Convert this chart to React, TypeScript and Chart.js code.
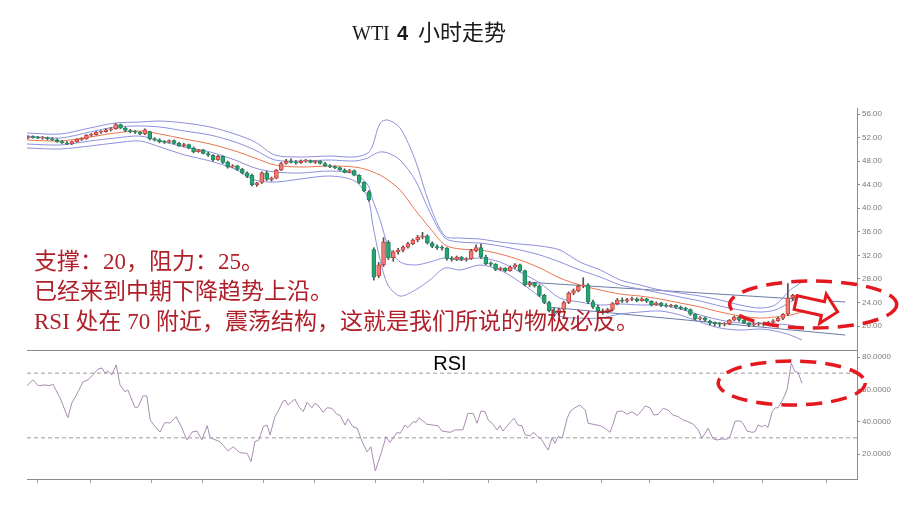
import React, { useEffect, useRef } from "react";
import { Chart, registerables } from "chart.js";

Chart.register(...registerables);

// ---- candle data (4h bars, index 0..159) ----
const openP = [
  52.0, 52.1, 52.0, 51.9, 52.0, 51.8, 51.6, 51.3, 51.1, 50.9,
  51.3, 51.7, 51.8, 52.4, 52.5, 52.9, 53.0, 53.3, 53.5, 54.2,
  53.6, 53.2, 53.0, 52.9, 52.6, 53.0, 51.8, 51.6, 51.3, 51.2,
  51.5, 51.0, 50.6, 50.8, 50.2, 49.6, 49.9, 49.3, 49.0, 48.2,
  48.8, 47.8, 47.0, 47.2, 46.6, 46.0, 45.6, 44.0, 44.4, 46.0,
  44.9, 45.1, 46.5, 47.6, 48.0, 47.8, 47.7, 48.0, 48.1, 47.8,
  48.0, 47.6, 47.2, 47.0, 46.9, 46.5, 46.1, 46.4, 45.6, 44.4,
  42.8, 33.0, 28.5, 30.4, 34.2, 31.6, 32.6, 32.9, 33.4, 34.0,
  34.6, 35.1, 35.3, 34.1, 33.5, 33.3, 33.2, 31.5, 31.3, 31.7,
  31.3, 31.4, 32.8, 33.3, 31.7, 30.6, 30.5, 29.6, 29.8, 29.4,
  30.0, 30.4, 29.4, 27.0, 27.3, 26.8, 25.2, 24.0, 22.6, 22.2,
  22.8, 24.0, 25.6, 26.0, 26.8, 27.0, 24.1, 23.2, 22.6, 22.4,
  22.8, 23.8, 24.4, 24.2, 24.5, 24.6, 24.3, 24.6, 24.2, 23.6,
  23.9, 23.5, 23.4, 23.5, 23.2, 23.0, 22.8, 22.0, 21.2, 21.4,
  20.8, 20.5, 20.4, 20.3, 20.4, 21.0, 21.5, 21.0, 20.5, 20.2,
  20.3, 20.4, 20.3, 20.6, 20.9, 21.3, 22.0, 24.8, 25.2, 24.5
];
const highP = [
  52.3, 52.3, 52.2, 52.2, 52.1, 52.0, 51.8, 51.5, 51.3, 51.4,
  51.8, 52.0, 52.5, 52.7, 53.0, 53.2, 53.5, 53.7, 54.4, 54.3,
  53.8, 53.4, 53.2, 53.0, 53.5, 53.1, 52.0, 51.8, 51.5, 51.6,
  51.6, 51.2, 51.0, 50.9, 50.4, 50.0, 50.0, 49.5, 49.1, 49.0,
  48.9, 48.0, 47.4, 47.3, 46.8, 46.2, 45.8, 44.4, 46.2, 46.3,
  45.3, 46.6, 47.8, 48.3, 48.4, 48.1, 48.2, 48.3, 48.2, 48.1,
  48.1, 47.8, 47.4, 47.2, 47.0, 46.7, 46.6, 46.5, 45.7, 44.5,
  43.0, 33.3, 30.8, 35.0, 34.5, 32.8, 33.2, 33.6, 34.2, 34.8,
  35.4, 35.9, 35.5, 34.3, 33.8, 33.6, 33.3, 31.8, 31.9, 31.8,
  31.6, 33.0, 33.8, 33.9, 32.0, 30.9, 30.6, 30.0, 29.9, 30.2,
  30.6, 30.5, 29.5, 27.6, 27.4, 27.0, 25.4, 24.2, 23.0, 23.0,
  24.2, 25.8, 26.3, 27.0, 28.2, 27.2, 24.4, 23.5, 22.9, 23.0,
  24.0, 24.7, 24.8, 24.7, 24.9, 24.8, 24.8, 24.7, 24.3, 24.1,
  24.0, 23.8, 23.7, 23.6, 23.4, 23.2, 22.9, 22.1, 21.6, 21.5,
  21.0, 20.7, 20.6, 20.6, 21.1, 21.7, 21.6, 21.1, 20.6, 20.5,
  20.6, 20.5, 20.8, 21.1, 21.5, 22.1, 27.2, 25.4, 25.3, 25.0
];
const lowP = [
  51.8, 51.9, 51.8, 51.7, 51.6, 51.5, 51.2, 51.0, 50.8, 50.8,
  51.2, 51.5, 51.7, 52.2, 52.4, 52.7, 52.9, 53.1, 53.4, 53.5,
  53.0, 52.8, 52.7, 52.5, 52.5, 51.6, 51.4, 51.1, 51.0, 51.1,
  50.9, 50.5, 50.4, 50.1, 49.4, 49.5, 49.2, 48.8, 48.0, 48.1,
  47.6, 46.8, 46.9, 46.4, 45.8, 45.2, 43.8, 43.7, 44.2, 44.7,
  44.6, 45.0, 46.4, 47.5, 47.7, 47.5, 47.6, 47.8, 47.7, 47.6,
  47.5, 47.1, 46.9, 46.7, 46.4, 46.0, 46.0, 45.5, 44.2, 42.8,
  41.2, 27.8, 28.2, 30.1, 31.3, 31.0, 32.2, 32.6, 33.2, 33.8,
  34.3, 34.8, 33.9, 33.3, 33.0, 32.9, 31.2, 31.0, 31.1, 31.1,
  31.0, 31.3, 32.6, 31.5, 30.4, 30.2, 29.4, 29.4, 29.2, 29.3,
  29.8, 29.2, 26.8, 26.7, 26.6, 25.0, 23.8, 22.4, 21.6, 21.8,
  22.6, 23.8, 25.3, 25.8, 26.5, 23.8, 23.0, 22.3, 22.0, 22.2,
  22.6, 23.6, 24.0, 24.0, 24.3, 24.1, 24.2, 24.0, 23.4, 23.5,
  23.3, 23.2, 23.2, 23.0, 22.8, 22.6, 21.8, 21.0, 21.0, 20.8,
  20.2, 20.0, 19.9, 20.0, 20.2, 20.9, 20.8, 20.4, 19.9, 20.0,
  20.1, 20.0, 20.2, 20.5, 20.8, 21.1, 21.8, 24.3, 24.2, 23.7
];
const closeP = [
  52.1, 52.0, 51.9, 52.0, 51.8, 51.6, 51.3, 51.1, 50.9, 51.3,
  51.7, 51.8, 52.4, 52.5, 52.9, 53.0, 53.3, 53.5, 54.2, 53.6,
  53.2, 53.0, 52.9, 52.6, 53.3, 51.8, 51.6, 51.3, 51.2, 51.5,
  51.0, 50.6, 50.8, 50.2, 49.6, 49.9, 49.3, 49.0, 48.2, 48.8,
  47.8, 47.0, 47.2, 46.6, 46.0, 45.4, 44.0, 44.3, 46.0, 44.9,
  45.1, 46.5, 47.6, 48.0, 47.8, 47.7, 48.0, 48.1, 47.8, 48.0,
  47.6, 47.2, 47.0, 46.9, 46.5, 46.1, 46.4, 45.6, 44.4, 43.0,
  41.4, 28.3, 30.4, 34.3, 31.6, 32.6, 32.9, 33.4, 34.0, 34.6,
  35.1, 35.3, 34.1, 33.5, 33.3, 33.2, 31.5, 31.3, 31.7, 31.3,
  31.4, 32.8, 33.3, 31.7, 30.6, 30.5, 29.6, 29.8, 29.4, 30.0,
  30.4, 29.4, 27.0, 27.3, 26.8, 25.2, 24.0, 22.6, 22.2, 22.8,
  24.0, 25.6, 26.0, 26.8, 27.0, 24.1, 23.2, 22.6, 22.4, 22.8,
  23.8, 24.4, 24.2, 24.5, 24.6, 24.3, 24.6, 24.2, 23.6, 23.9,
  23.5, 23.4, 23.5, 23.2, 23.0, 22.8, 22.0, 21.2, 21.4, 21.0,
  20.5, 20.4, 20.3, 20.4, 21.0, 21.5, 21.0, 20.5, 20.2, 20.3,
  20.4, 20.3, 20.6, 20.9, 21.3, 22.0, 24.8, 25.2, 24.5, 23.9
];

// ---- Bollinger-type bands (position in bar index) ----
const bandT = [-0.2, 6.6, 12.7, 17.9, 23.0, 27.1, 32.2, 37.4, 42.5, 46.6, 50.7, 55.9, 62.0, 67.1, 69.8, 70.8, 72.3, 73.9, 76.4, 79.5, 82.5, 85.6, 88.7, 92.8, 96.9, 101.0, 105.1, 109.2, 113.3, 117.5, 121.6, 125.7, 129.8, 133.9, 138.0, 142.1, 146.2, 150.3, 153.4, 156.5, 158.9];
const bandOuterUp = [52.77, 52.60, 53.62, 54.47, 54.64, 54.81, 54.47, 53.79, 52.60, 51.25, 49.04, 48.70, 48.87, 48.70, 49.38, 50.74, 54.47, 54.98, 53.62, 48.19, 40.55, 35.28, 34.94, 34.77, 34.26, 33.92, 33.59, 32.91, 30.87, 29.51, 27.81, 26.96, 26.11, 25.60, 25.09, 24.42, 23.57, 23.06, 23.57, 26.11, 27.47];
const bandInnerUp = [52.26, 51.92, 52.94, 53.79, 53.96, 53.79, 53.11, 52.43, 51.25, 49.89, 48.19, 48.02, 48.19, 48.02, 48.53, 49.04, 49.55, 49.38, 48.19, 44.79, 39.36, 34.94, 34.26, 34.09, 33.59, 32.91, 32.06, 30.87, 29.51, 28.32, 26.96, 26.28, 25.60, 24.92, 24.25, 23.40, 22.72, 22.38, 22.72, 24.08, 25.26];
const bandMid = [51.58, 51.42, 52.09, 52.77, 53.11, 52.60, 51.75, 50.91, 49.72, 48.53, 47.34, 47.0, 47.17, 47.0, 46.49, 46.15, 45.64, 44.79, 43.09, 39.70, 36.64, 33.76, 33.08, 32.91, 32.23, 31.21, 29.85, 28.15, 26.96, 26.11, 25.43, 25.09, 24.58, 23.91, 23.23, 22.38, 21.70, 21.36, 21.53, 21.87, 22.38];
const bandInnerLow = [50.91, 50.74, 51.42, 51.92, 52.26, 51.42, 50.40, 49.55, 48.19, 46.83, 46.15, 45.98, 46.32, 45.81, 43.94, 41.40, 38.0, 33.76, 30.87, 30.36, 30.87, 31.55, 31.21, 31.55, 30.87, 29.17, 27.30, 24.75, 24.08, 23.57, 23.74, 23.57, 23.57, 22.89, 21.87, 21.02, 20.51, 20.51, 20.34, 20.17, 19.66];
const bandOuterLow = [50.23, 50.06, 50.57, 51.08, 51.42, 50.40, 49.04, 48.02, 46.66, 44.79, 44.45, 44.96, 45.47, 44.62, 41.74, 37.15, 31.21, 26.96, 25.09, 26.11, 27.81, 29.85, 29.51, 30.36, 29.51, 27.47, 24.92, 21.70, 21.36, 21.36, 22.04, 22.38, 22.55, 21.87, 20.68, 19.66, 19.32, 19.49, 19.15, 18.47, 17.62];

// ---- trend lines ----
const trendUpT = [102.1, 167.8];
const trendUpV = [27.47, 24.08];
const trendLowT = [106.8, 167.8];
const trendLowV = [23.23, 18.47];

// ---- RSI ----
const rsiT = [-0.2, 1.0, 2.1, 3.5, 4.5, 5.1, 6.6, 8.2, 9.0, 10.3, 11.3, 12.3, 13.3, 14.4, 15.2, 15.8, 16.4, 17.2, 18.1, 18.9, 19.9, 20.5, 22.0, 22.6, 23.6, 24.4, 25.1, 26.1, 27.1, 28.1, 29.2, 30.4, 31.6, 32.6, 33.7, 34.7, 35.7, 36.8, 37.4, 39.4, 41.1, 42.1, 43.5, 45.0, 45.8, 46.6, 47.4, 48.3, 49.1, 49.7, 50.7, 51.3, 52.4, 52.8, 53.4, 54.8, 55.6, 56.5, 57.3, 58.3, 58.9, 59.5, 60.6, 61.4, 62.4, 63.4, 64.1, 65.1, 65.7, 66.7, 67.6, 68.6, 69.6, 70.4, 71.3, 72.5, 73.5, 74.3, 75.8, 76.4, 77.4, 78.0, 79.1, 79.7, 80.3, 81.9, 83.2, 84.2, 85.0, 86.7, 87.7, 89.3, 90.3, 91.4, 92.2, 93.0, 93.8, 94.5, 95.3, 96.3, 96.9, 97.5, 99.0, 99.8, 100.6, 101.4, 102.1, 103.1, 103.7, 104.5, 105.5, 106.6, 106.8, 107.6, 108.2, 108.8, 109.7, 110.7, 111.3, 112.3, 113.3, 114.4, 115.0, 116.0, 117.5, 118.5, 119.5, 120.1, 120.9, 122.0, 123.0, 124.0, 125.1, 126.1, 126.7, 127.7, 128.5, 129.4, 130.4, 131.4, 132.4, 133.5, 134.5, 135.5, 136.6, 137.6, 138.4, 139.0, 139.6, 140.7, 141.5, 142.5, 143.5, 144.1, 145.2, 146.2, 146.8, 147.6, 148.7, 149.3, 149.9, 150.7, 151.3, 151.9, 152.8, 153.4, 154.0, 154.8, 155.4, 155.9, 156.7, 157.5, 158.1, 158.9];
const rsiV = [62.3, 65.8, 62.3, 62.7, 62.3, 63.3, 54.6, 42.5, 51.5, 58.5, 64.7, 65.8, 68.9, 72.6, 73.2, 70.1, 71.3, 68.9, 75.1, 62.7, 58.5, 59.6, 48.6, 49.1, 55.9, 55.9, 41.0, 36.9, 33.6, 39.4, 39.2, 43.1, 36.1, 28.7, 33.6, 34.2, 28.7, 37.5, 30.1, 27.6, 21.9, 24.5, 20.8, 20.4, 15.3, 27.6, 28.7, 36.9, 37.9, 31.8, 43.1, 46.2, 52.8, 53.2, 50.3, 54.0, 49.3, 46.2, 52.0, 48.6, 51.3, 50.3, 45.8, 48.6, 48.3, 44.6, 43.8, 37.9, 41.7, 36.9, 35.9, 27.6, 21.4, 24.5, 9.5, 20.4, 30.7, 27.2, 33.4, 32.8, 37.9, 36.3, 40.0, 39.6, 42.5, 38.4, 37.9, 37.5, 34.2, 33.4, 34.9, 34.9, 45.1, 45.1, 39.0, 46.6, 46.2, 41.0, 39.0, 34.9, 37.5, 34.2, 39.6, 42.1, 37.9, 37.5, 31.8, 31.3, 33.4, 31.3, 28.7, 23.1, 22.5, 30.1, 26.6, 30.7, 30.1, 42.1, 46.2, 48.6, 50.3, 47.2, 39.0, 38.4, 37.5, 35.9, 33.4, 38.4, 46.2, 46.6, 44.6, 46.2, 43.8, 47.2, 49.7, 48.6, 44.1, 44.6, 48.3, 47.2, 44.1, 43.1, 41.0, 40.0, 38.4, 34.9, 29.7, 32.8, 35.9, 29.3, 28.7, 29.3, 29.1, 30.7, 40.4, 40.4, 39.0, 34.2, 33.4, 33.8, 37.9, 36.9, 37.9, 36.3, 46.2, 48.6, 48.6, 52.8, 56.5, 60.6, 76.1, 70.9, 70.5, 63.7];
const rsiLevels = [70, 30];

// ---- axes ----
const priceTicks = [20, 24, 28, 32, 36, 40, 44, 48, 52, 56];
const rsiTicks = [20, 40, 60, 80];
const timeTicks = [2.05, 12.9, 25.3, 35.9, 48.3, 58.9, 71.3, 81.3, 94.5, 104.5, 117.7, 127.5, 140.7, 150.7, 163.9];

// ---- texts ----
const titleLatin = "WTI";
const titleNum = "4";
const titleCjk = "小时走势";
const noteLines = [
  "支撑：20，阻力：25。",
  "已经来到中期下降趋势上沿。",
  "RSI 处在 70 附近，震荡结构，这就是我们所说的物极必反。",
];
const rsiLabel = "RSI";

// ---- annotation anchors (data units: bar index, price / RSI) ----
const priceEllipse = { t: 161.2, v: 23.65, rt: 17.15, rv: 3.99 };
const rsiEllipse = { t: 156.8, v: 63.9, rt: 15.1, rv: 13.6 };
const arrowAnchor = { t: 157.6, v: 23.99 };

const X_MIN = -0.2;
const X_MAX = 170.2;
const PRICE_MIN = 15.93;
const PRICE_MAX = 57.02;
const RSI_MIN = 4.54;
const RSI_MAX = 84.33;

const AXIS = "#8c8c8c";
const TICK_TXT = "#7a7a7a";
const BAND_COLOR = "#8d90dc";
const MID_COLOR = "#e8764f";
const TREND_COLOR = "#6b7ba6";
const UP_FILL = "#ec7d78";
const UP_LINE = "#cf3f3a";
const DOWN_FILL = "#27a373";
const DOWN_LINE = "#1c8a5e";
const WICK = "#505050";
const RSI_COLOR = "#a98bb3";
const RED = "#e3191f";
const NOTE_RED = "#b0202a";

const tickFont = { family: '"Liberation Sans", Arial, sans-serif', size: 8 };

function lineSet(t: number[], v: number[], color: string, extra: any = {}) {
  return {
    type: "line",
    data: t.map((tt, k) => ({ x: tt, y: v[k] })),
    borderColor: color,
    borderWidth: 1,
    pointRadius: 0,
    fill: false,
    tension: 0.3,
    order: 5,
    ...extra,
  };
}

function drawEllipse(ctx: any, xs: any, ys: any, e: any) {
  const cx = xs.getPixelForValue(e.t);
  const cy = ys.getPixelForValue(e.v);
  const rx = Math.abs(xs.getPixelForValue(e.t + e.rt) - cx);
  const ry = Math.abs(ys.getPixelForValue(e.v + e.rv) - cy);
  ctx.save();
  ctx.setLineDash([16, 9]);
  ctx.lineWidth = 3.5;
  ctx.strokeStyle = RED;
  ctx.beginPath();
  ctx.ellipse(cx, cy, rx, ry, 0, 0, Math.PI * 2);
  ctx.stroke();
  ctx.restore();
}

const mainDecor = {
  id: "mainDecor",
  afterDraw(chart: any) {
    const { ctx } = chart;
    const xs = chart.scales.x;
    const ys = chart.scales.y;
    ctx.save();
    // title
    ctx.textAlign = "left";
    ctx.textBaseline = "alphabetic";
    ctx.fillStyle = "#1a1a1a";
    ctx.font = '20px "Liberation Serif", serif';
    ctx.fillText(titleLatin, 352, 40);
    ctx.font = 'bold 20px "Liberation Sans", Arial, sans-serif';
    ctx.fillText(titleNum, 397, 40);
    ctx.font = '22px "Noto Sans CJK SC", sans-serif';
    ctx.fillText(titleCjk, 418, 40);

    // notes
    ctx.fillStyle = NOTE_RED;
    ctx.font = '23px "Liberation Serif", "Noto Sans CJK SC", serif';
    const baselines = [269, 299, 329];
    noteLines.forEach((s, k) => ctx.fillText(s, 34, baselines[k]));

    // ellipse
    drawEllipse(ctx, xs, ys, priceEllipse);

    // arrow
    const ax = xs.getPixelForValue(arrowAnchor.t);
    const ay = ys.getPixelForValue(arrowAnchor.v);
    const shape = [
      [0, -7], [28, -7], [28, -15], [43, 0], [28, 15], [28, 7], [0, 7],
    ];
    const ang = (12.6 * Math.PI) / 180;
    ctx.beginPath();
    shape.forEach(([px, py], k) => {
      const rx = ax + px * Math.cos(ang) - py * Math.sin(ang);
      const ry = ay + px * Math.sin(ang) + py * Math.cos(ang);
      if (k === 0) ctx.moveTo(rx, ry);
      else ctx.lineTo(rx, ry);
    });
    ctx.closePath();
    ctx.fillStyle = "#ffffff";
    ctx.fill();
    ctx.lineWidth = 3;
    ctx.lineJoin = "miter";
    ctx.strokeStyle = RED;
    ctx.stroke();
    ctx.restore();
  },
};

const rsiDecor = {
  id: "rsiDecor",
  afterDraw(chart: any) {
    const { ctx } = chart;
    ctx.save();
    ctx.fillStyle = "#000";
    ctx.textAlign = "center";
    ctx.textBaseline = "alphabetic";
    ctx.font = '20px "Liberation Sans", Arial, sans-serif';
    ctx.fillText(rsiLabel, 450, 370);
    ctx.restore();
    drawEllipse(ctx, chart.scales.x, chart.scales.y, rsiEllipse);
  },
};

export default function App() {
  const mainRef = useRef<HTMLCanvasElement>(null);
  const rsiRef = useRef<HTMLCanvasElement>(null);

  useEffect(() => {
    const idx = openP.map((_, i) => i);
    const up = idx.map((i) => closeP[i] >= openP[i]);

    const mainChart = new Chart(mainRef.current as HTMLCanvasElement, {
      type: "line",
      data: {
        datasets: [
          lineSet(bandT, bandOuterUp, BAND_COLOR),
          lineSet(bandT, bandInnerUp, BAND_COLOR),
          lineSet(bandT, bandMid, MID_COLOR),
          lineSet(bandT, bandInnerLow, BAND_COLOR),
          lineSet(bandT, bandOuterLow, BAND_COLOR),
          lineSet(trendUpT, trendUpV, TREND_COLOR, { tension: 0 }),
          lineSet(trendLowT, trendLowV, TREND_COLOR, { tension: 0 }),
          {
            type: "bar",
            data: idx.map((i) => ({ x: i, y: [lowP[i], highP[i]] })),
            backgroundColor: WICK,
            barThickness: 1,
            grouped: false,
            order: 2,
          },
          {
            type: "bar",
            data: idx.map((i) => ({ x: i, y: [openP[i], closeP[i]] })),
            backgroundColor: up.map((u) => (u ? UP_FILL : DOWN_FILL)),
            borderColor: up.map((u) => (u ? UP_LINE : DOWN_LINE)),
            borderWidth: 1,
            borderSkipped: false,
            barThickness: 4,
            minBarLength: 1,
            grouped: false,
            order: 1,
          },
        ] as any,
      },
      options: {
        responsive: false,
        animation: false,
        events: [],
        layout: { padding: { left: 27, right: 0, top: 108, bottom: 155 } },
        plugins: { legend: { display: false }, tooltip: { enabled: false }, title: { display: false } },
        scales: {
          x: {
            type: "linear",
            min: X_MIN,
            max: X_MAX,
            offset: false,
            grid: { display: false },
            ticks: { display: false },
            border: { display: true, color: AXIS, width: 1 },
            afterFit: (s: any) => { s.height = 0; },
          },
          y: {
            type: "linear",
            position: "right",
            min: PRICE_MIN,
            max: PRICE_MAX,
            afterBuildTicks: (s: any) => { s.ticks = priceTicks.map((v) => ({ value: v })); },
            ticks: { callback: (v: any) => Number(v).toFixed(2), color: TICK_TXT, font: tickFont, padding: 2 },
            grid: { drawOnChartArea: false, drawTicks: true, tickLength: 3, color: AXIS },
            border: { display: true, color: AXIS, width: 1 },
            afterFit: (s: any) => { s.width = 46; },
          },
        },
      } as any,
      plugins: [mainDecor],
    });

    const rsiChart = new Chart(rsiRef.current as HTMLCanvasElement, {
      type: "line",
      data: {
        datasets: [
          lineSet(rsiT, rsiV, RSI_COLOR, { tension: 0, order: 1 }),
          ...rsiLevels.map((lv) =>
            lineSet([X_MIN, X_MAX], [lv, lv], "#9a9a9a", { tension: 0, borderDash: [4, 3], order: 2 })
          ),
        ] as any,
      },
      options: {
        responsive: false,
        animation: false,
        events: [],
        layout: { padding: { left: 27, right: 0, top: 350, bottom: 0 } },
        plugins: { legend: { display: false }, tooltip: { enabled: false }, title: { display: false } },
        scales: {
          x: {
            type: "linear",
            min: X_MIN,
            max: X_MAX,
            offset: false,
            afterBuildTicks: (s: any) => { s.ticks = timeTicks.map((v) => ({ value: v })); },
            grid: { display: true, drawOnChartArea: false, drawTicks: true, tickLength: 4, color: "#a0a0a0" },
            ticks: { display: false },
            border: { display: true, color: AXIS, width: 1 },
            afterFit: (s: any) => { s.height = 26; },
          },
          y: {
            type: "linear",
            position: "right",
            min: RSI_MIN,
            max: RSI_MAX,
            afterBuildTicks: (s: any) => { s.ticks = rsiTicks.map((v) => ({ value: v })); },
            ticks: { callback: (v: any) => Number(v).toFixed(4), color: TICK_TXT, font: tickFont, padding: 2 },
            grid: { drawOnChartArea: false, drawTicks: true, tickLength: 3, color: AXIS },
            border: { display: true, color: AXIS, width: 1 },
            afterFit: (s: any) => { s.width = 34; },
          },
        },
      } as any,
      plugins: [rsiDecor],
    });

    return () => {
      mainChart.destroy();
      rsiChart.destroy();
    };
  }, []);

  return (
    <div style={{ position: "fixed", left: 0, top: 0, width: 903, height: 505, background: "#ffffff", overflow: "hidden" }}>
      <canvas ref={mainRef} width={903} height={505} style={{ position: "absolute", left: 0, top: 0 }} />
      <canvas ref={rsiRef} width={891} height={505} style={{ position: "absolute", left: 0, top: 0 }} />
    </div>
  );
}
